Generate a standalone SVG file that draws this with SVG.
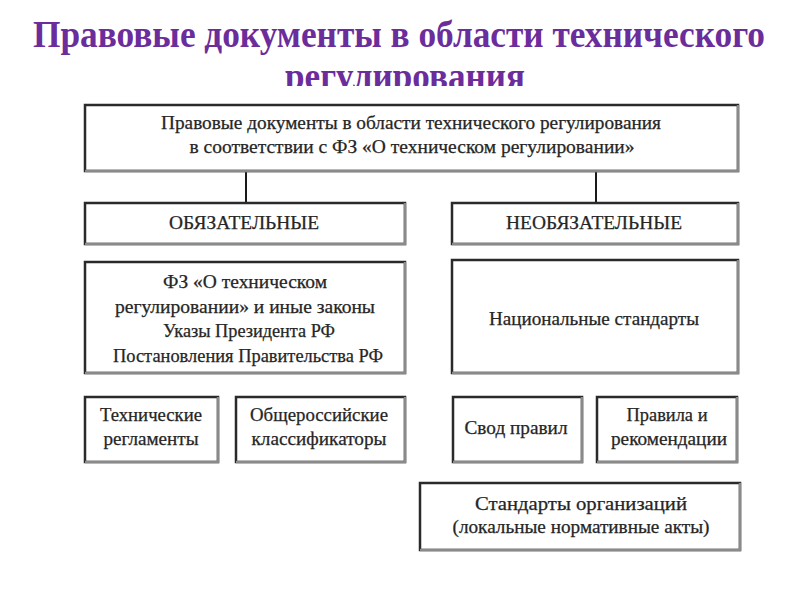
<svg xmlns="http://www.w3.org/2000/svg" width="800" height="600" viewBox="0 0 800 600">
  <defs>
    <clipPath id="titleClip"><rect x="0" y="0" width="800" height="86"/></clipPath>
    <style>
      .title { font-family: "Liberation Serif", "DejaVu Serif", serif; font-weight: bold; font-size: 37px; fill: #6B2D9B; text-anchor: middle; }
      .box { fill: #ffffff; stroke: #2a2a2a; stroke-width: 2.5; }
      .shade { fill: none; stroke: #8a8a8a; stroke-width: 2.5; }
      .lbl { font-family: "Liberation Serif", "DejaVu Serif", serif; font-size: 18px; fill: #262626; stroke: #262626; stroke-width: 0.25; text-anchor: middle; }
      .conn { stroke: #1a1a1a; stroke-width: 2; fill: none; }
    </style>
  </defs>
  <rect width="800" height="600" fill="#ffffff"/>

  <g id="title" clip-path="url(#titleClip)">
    <text class="title" x="399" y="47" textLength="732" lengthAdjust="spacingAndGlyphs">Правовые документы в области технического</text>
    <text class="title" x="405" y="89" textLength="240" lengthAdjust="spacingAndGlyphs">регулирования</text>
  </g>

  <g id="connectors">
    <line class="conn" x1="246" y1="171" x2="246" y2="203"/>
    <line class="conn" x1="596" y1="171" x2="596" y2="203"/>
  </g>

  <g id="root">
    <rect class="box" x="85" y="105" width="653" height="66"/>
    <polyline class="shade" points="85,171 738,171 738,105"/>
    <text class="lbl" x="411" y="129" textLength="500" lengthAdjust="spacingAndGlyphs">Правовые документы в области технического регулирования</text>
    <text class="lbl" x="412" y="153" textLength="445" lengthAdjust="spacingAndGlyphs">в соответствии с ФЗ «О техническом регулировании»</text>
  </g>

  <g id="mandatory">
    <rect class="box" x="85" y="203" width="320" height="41"/>
    <polyline class="shade" points="85,244 405,244 405,203"/>
    <text class="lbl" x="244" y="229" textLength="150" lengthAdjust="spacingAndGlyphs">ОБЯЗАТЕЛЬНЫЕ</text>
  </g>

  <g id="optional">
    <rect class="box" x="452" y="203" width="286" height="41"/>
    <polyline class="shade" points="452,244 738,244 738,203"/>
    <text class="lbl" x="594" y="229" textLength="176" lengthAdjust="spacingAndGlyphs">НЕОБЯЗАТЕЛЬНЫЕ</text>
  </g>

  <g id="laws">
    <rect class="box" x="85" y="262" width="320" height="111"/>
    <polyline class="shade" points="85,373 405,373 405,262"/>
    <text class="lbl" x="245" y="288" textLength="164" lengthAdjust="spacingAndGlyphs">ФЗ «О техническом</text>
    <text class="lbl" x="245" y="313" textLength="260" lengthAdjust="spacingAndGlyphs">регулировании» и иные законы</text>
    <text class="lbl" x="249" y="337" textLength="172" lengthAdjust="spacingAndGlyphs">Указы Президента РФ</text>
    <text class="lbl" x="248" y="362" textLength="270" lengthAdjust="spacingAndGlyphs">Постановления Правительства РФ</text>
  </g>

  <g id="national">
    <rect class="box" x="452" y="260" width="286" height="113"/>
    <polyline class="shade" points="452,373 738,373 738,260"/>
    <text class="lbl" x="594" y="325" textLength="210" lengthAdjust="spacingAndGlyphs">Национальные стандарты</text>
  </g>

  <g id="techreg">
    <rect class="box" x="85" y="397" width="133" height="65"/>
    <polyline class="shade" points="85,462 218,462 218,397"/>
    <text class="lbl" x="151" y="421" textLength="102" lengthAdjust="spacingAndGlyphs">Технические</text>
    <text class="lbl" x="151" y="445" textLength="95" lengthAdjust="spacingAndGlyphs">регламенты</text>
  </g>

  <g id="classifiers">
    <rect class="box" x="236" y="397" width="169" height="65"/>
    <polyline class="shade" points="236,462 405,462 405,397"/>
    <text class="lbl" x="319" y="421" textLength="138" lengthAdjust="spacingAndGlyphs">Общероссийские</text>
    <text class="lbl" x="319" y="445" textLength="135" lengthAdjust="spacingAndGlyphs">классификаторы</text>
  </g>

  <g id="codes">
    <rect class="box" x="453" y="397" width="129" height="65"/>
    <polyline class="shade" points="453,462 582,462 582,397"/>
    <text class="lbl" x="516" y="434" textLength="103" lengthAdjust="spacingAndGlyphs">Свод правил</text>
  </g>

  <g id="rules">
    <rect class="box" x="597" y="397" width="140" height="65"/>
    <polyline class="shade" points="597,462 737,462 737,397"/>
    <text class="lbl" x="667" y="421" textLength="81" lengthAdjust="spacingAndGlyphs">Правила и</text>
    <text class="lbl" x="669" y="445" textLength="116" lengthAdjust="spacingAndGlyphs">рекомендации</text>
  </g>

  <g id="orgstandards">
    <rect class="box" x="420" y="483" width="320" height="67"/>
    <polyline class="shade" points="420,550 740,550 740,483"/>
    <text class="lbl" x="581" y="510" textLength="212" lengthAdjust="spacingAndGlyphs">Стандарты организаций</text>
    <text class="lbl" x="581" y="533" textLength="257" lengthAdjust="spacingAndGlyphs">(локальные нормативные акты)</text>
  </g>
</svg>
